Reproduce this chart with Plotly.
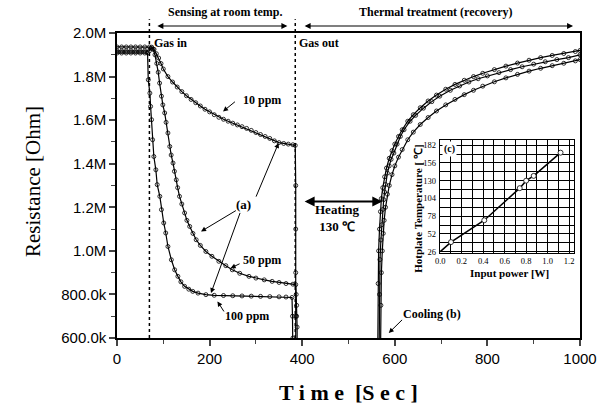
import plotly.graph_objects as go

# ---------------- data (Resistance in MOhm) ----------------
t_10 = [0, 10, 20, 30, 40, 50, 60, 70, 75, 80, 85, 90, 95, 100, 110, 120, 130, 140, 150, 160,
        170, 180, 190, 200, 210, 220, 230, 240, 250, 260, 270, 280, 290, 300, 310, 320, 330,
        340, 350, 360, 370, 380, 385, 386, 386, 386, 386, 386]
r_10 = [1.936, 1.936, 1.936, 1.936, 1.936, 1.936, 1.936, 1.936, 1.935, 1.925, 1.905, 1.885,
        1.860, 1.835, 1.800, 1.775, 1.752, 1.731, 1.712, 1.695, 1.680, 1.665, 1.650, 1.638,
        1.625, 1.613, 1.604, 1.595, 1.586, 1.578, 1.570, 1.562, 1.553, 1.543, 1.534, 1.525,
        1.516, 1.505, 1.497, 1.493, 1.490, 1.487, 1.484, 1.30, 1.10, 0.90, 0.70, 0.50]
t_10_rec = [563, 564, 565, 567, 569, 571, 574, 578, 582, 588, 594, 600, 608, 616, 628, 640,
            655, 672, 690, 710, 730, 750, 770, 790, 815, 840, 865, 890, 915, 940, 965, 990, 1000]
r_10_rec = [0.50, 0.85, 1.00, 1.10, 1.18, 1.24, 1.29, 1.34, 1.38, 1.425, 1.46, 1.49, 1.525,
            1.556, 1.595, 1.625, 1.657, 1.688, 1.715, 1.742, 1.764, 1.783, 1.800, 1.815, 1.832,
            1.848, 1.862, 1.875, 1.887, 1.897, 1.906, 1.915, 1.920]

t_50 = [0, 10, 20, 30, 40, 50, 60, 70, 74, 78, 82, 86, 89, 92, 96, 99, 103, 106, 110, 114,
        117, 121, 124, 128, 131, 135, 140, 146, 151, 157, 164, 171, 180, 192, 205, 220, 235,
        249, 265, 285, 300, 318, 335, 350, 365, 380, 386, 387, 388, 388, 389, 389]
r_50 = [1.918, 1.918, 1.918, 1.918, 1.918, 1.918, 1.918, 1.918, 1.930, 1.925, 1.900, 1.860,
        1.820, 1.770, 1.710, 1.670, 1.633, 1.590, 1.541, 1.479, 1.440, 1.403, 1.365, 1.326,
        1.290, 1.250, 1.215, 1.174, 1.140, 1.112, 1.080, 1.051, 1.025, 0.997, 0.975, 0.952,
        0.932, 0.913, 0.897, 0.883, 0.875, 0.867, 0.860, 0.855, 0.850, 0.847, 0.845, 0.80,
        0.75, 0.70, 0.65, 0.55]
t_50_rec = [566, 567, 568, 570, 572, 574, 576, 578, 580, 584, 588, 592, 598, 605, 612, 620,
            633, 645, 662, 680, 697, 720, 740, 760, 780, 800, 825, 850, 875, 900, 925, 950,
            975, 1000]
r_50_rec = [0.50, 0.80, 0.96, 1.05, 1.12, 1.19, 1.235, 1.27, 1.305, 1.357, 1.39, 1.42, 1.449,
            1.49, 1.525, 1.556, 1.595, 1.622, 1.655, 1.685, 1.710, 1.737, 1.757, 1.775, 1.790,
            1.803, 1.818, 1.832, 1.845, 1.857, 1.868, 1.878, 1.887, 1.900]

t_100 = [0, 10, 20, 30, 40, 50, 60, 66, 67.5, 71, 72.6, 74.7, 76.9, 79.6, 83.9, 86.8, 92.5,
         96, 101, 105.3, 110, 117.4, 124.5, 131.5, 138, 146, 155, 163.6, 175, 192, 210, 230,
         250, 270, 290, 310, 330, 350, 365, 378, 379, 380, 380]
r_100 = [1.908, 1.908, 1.908, 1.908, 1.908, 1.908, 1.908, 1.908, 1.785, 1.724, 1.663, 1.602,
         1.510, 1.433, 1.372, 1.304, 1.250, 1.189, 1.128, 1.082, 1.020, 0.959, 0.913, 0.883,
         0.858, 0.837, 0.824, 0.814, 0.806, 0.799, 0.796, 0.795, 0.794, 0.793, 0.792, 0.791,
         0.790, 0.789, 0.788, 0.786, 0.70, 0.60, 0.50]
t_100_rec = [569, 570, 571, 573, 575, 577, 580, 584, 588, 594, 600, 608, 616, 628, 640, 655,
             672, 690, 710, 730, 750, 770, 790, 815, 840, 865, 890, 915, 940, 965, 990, 1000]
r_100_rec = [0.50, 0.75, 0.90, 1.00, 1.08, 1.14, 1.20, 1.26, 1.30, 1.35, 1.39, 1.43, 1.465,
             1.51, 1.545, 1.58, 1.612, 1.642, 1.670, 1.695, 1.717, 1.737, 1.756, 1.776, 1.794,
             1.810, 1.825, 1.838, 1.850, 1.861, 1.872, 1.878]

# inset: hotplate temperature vs input power
power_w = [0.0, 0.10, 0.41, 0.74, 0.80, 0.87, 1.12]
temp_c = [26, 40, 72, 119, 130, 137, 171]

y_tickvals = [0.6, 0.8, 1.0, 1.2, 1.4, 1.6, 1.8, 2.0]
y_ticktext = ["600.0k", "800.0k", "1.0M", "1.2M", "1.4M", "1.6M", "1.8M", "2.0M"]
x_tickvals = [0, 200, 400, 600, 800, 1000]
inset_y_ticks = [26, 52, 78, 104, 130, 156, 182]
inset_x_ticks = [0.0, 0.2, 0.4, 0.6, 0.8, 1.0, 1.2]
inset_x_text = ["0.0", "0.2", "0.4", "0.6", "0.8", "1.0", "1.2"]

SERIF = "Liberation Serif"
SANS = "Liberation Sans"

fig = go.Figure()

mk = dict(symbol="circle-open", size=4, color="black", line=dict(width=0.8))
ln = dict(color="black", width=1.2)
for tt, rr in [(t_10, r_10), (t_10_rec, r_10_rec), (t_50, r_50), (t_50_rec, r_50_rec),
               (t_100, r_100), (t_100_rec, r_100_rec)]:
    fig.add_trace(go.Scatter(x=tt, y=rr, mode="lines+markers", marker=mk, line=ln,
                             showlegend=False, hoverinfo="skip"))

fig.add_trace(go.Scatter(x=power_w, y=temp_c, mode="lines", line=dict(color="black", width=1.5),
                         xaxis="x2", yaxis="y2", showlegend=False))
fig.add_trace(go.Scatter(x=power_w[1:], y=temp_c[1:], mode="markers",
                         marker=dict(symbol="circle", size=5, color="white",
                                     line=dict(width=0.8, color="black")),
                         xaxis="x2", yaxis="y2", showlegend=False))

fig.update_layout(
    width=609, height=407, autosize=False,
    margin=dict(l=117, r=24, t=33, b=69, pad=0),
    paper_bgcolor="white", plot_bgcolor="white",
    xaxis=dict(range=[0, 1000], tickvals=x_tickvals, ticks="outside", ticklen=6, tickwidth=1.5,
               minor=dict(dtick=100, tick0=0, ticks="outside", ticklen=4, tickwidth=1.2),
               showline=True, linecolor="black", linewidth=1.5, mirror=True, showgrid=False,
               zeroline=False, tickfont=dict(family=SANS, size=15, color="black")),
    yaxis=dict(range=[0.6, 2.0], tickvals=y_tickvals, ticktext=y_ticktext, ticks="outside",
               ticklen=6, tickwidth=1.5,
               minor=dict(dtick=0.1, tick0=0.6, ticks="outside", ticklen=4, tickwidth=1.2),
               showline=True, linecolor="black", linewidth=1.5, mirror=True, showgrid=False,
               zeroline=False, tickfont=dict(family=SANS, size=15, color="black")),
    xaxis2=dict(domain=[0.697, 0.987], anchor="y2", range=[-0.005, 1.245],
                tickvals=inset_x_ticks, ticktext=inset_x_text,
                ticks="", showline=True, linecolor="black", linewidth=1, mirror=True,
                showgrid=True, gridcolor="black", gridwidth=0.6, zeroline=False,
                minor=dict(dtick=0.1, tick0=0, showgrid=True, gridcolor="black", gridwidth=0.6),
                tickfont=dict(family=SERIF, size=8.5, color="black"), ticklabelstandoff=0),
    yaxis2=dict(domain=[0.278, 0.649], anchor="x2", range=[23.7, 189.5],
                tickvals=inset_y_ticks, ticks="", showline=True, linecolor="black", linewidth=1,
                mirror=True, showgrid=True, gridcolor="black", gridwidth=0.6, zeroline=False,
                minor=dict(dtick=13, tick0=26, showgrid=True, gridcolor="black", gridwidth=0.6),
                tickfont=dict(family=SERIF, size=8.5, color="black"), ticklabelstandoff=1),
)

# dotted vertical markers (gas in / gas out)
for xv in [70, 385]:
    fig.add_shape(type="line", xref="x", yref="paper", x0=xv, x1=xv, y0=0, y1=1.045,
                  line=dict(color="black", width=1.5, dash="dot"))

ann = []
B = lambda s: "<b>" + s + "</b>"
def text(x, y, s, size=12, xref="x", yref="y", xanchor="center", **kw):
    ann.append(dict(x=x, y=y, xref=xref, yref=yref, text=s, showarrow=False, xanchor=xanchor,
                    yanchor="middle", font=dict(family=SERIF, size=size, color="black"), **kw))
def arrow(x0, y0, x1, y1, width=1, head=2, size=1):
    ann.append(dict(x=x1, y=y1, ax=x0, ay=y0, xref="x", yref="y", axref="x", ayref="y",
                    text="", showarrow=True, arrowhead=head, arrowsize=size, arrowwidth=width,
                    arrowcolor="black"))
def darrow(x0, x1, y, yref, width):
    ann.append(dict(x=x1, y=y, ax=x0, ay=0, xref="x", yref=yref, axref="x", ayref="pixel",
                    text="", showarrow=True, arrowhead=2, arrowsize=1, arrowwidth=width,
                    arrowside="end+start", startarrowhead=2, startarrowsize=1,
                    arrowcolor="black"))

text(233, 1.069, B("Sensing at room temp."), yref="paper")
text(690, 1.069, B("Thermal treatment (recovery)"), yref="paper")
darrow(84, 368, 1.023, "paper", 1.2)
darrow(402, 985, 1.023, "paper", 1.2)
text(75, 0.967, B("Gas in"), yref="paper", xanchor="left")
text(389, 0.967, B("Gas out"), yref="paper", xanchor="left")

text(313, 1.694, B("10 ppm"), size=12)
arrow(258, 1.690, 229, 1.640)
text(313, 0.956, B("50 ppm"), size=12)
arrow(268, 0.944, 245.5, 0.921)
text(281, 0.702, B("100 ppm"), size=12)
arrow(233, 0.715, 217, 0.768)
text(274, 1.212, B("(a)"), size=13)
arrow(299, 1.242, 349, 1.495)
arrow(260, 1.189, 181.5, 1.089)
arrow(267, 1.181, 203, 0.806)

darrow(402, 573, 1.227, "y", 2)
text(477, 1.152, B("Heating") + "<br>" + B("130 ℃"), size=13)
text(680, 0.711, B("Cooling (b)"), size=12)
arrow(619, 0.69, 587, 0.623)

# inset labels
text(0.651, 0.425, B("Hotplate Temperature [ ℃]"), size=11, xref="paper", yref="paper",
     textangle=-90)
text(0.847, 0.212, B("Input power [W]"), size=11, xref="paper", yref="paper")
ann.append(dict(x=0.02, y=188, xref="x2", yref="y2", text=B("(c)"), showarrow=False,
                xanchor="left", yanchor="top", bgcolor="white",
                font=dict(family=SERIF, size=10, color="black")))

# main axis titles
text(0.5, -0.179, B("T i m e  [S e c ]"), size=22, xref="paper", yref="paper")
text(-0.181, 0.512, "Resistance [Ohm]", size=21, xref="paper", yref="paper", textangle=-90)

fig.update_layout(annotations=ann)
fig.write_html("out.html", config={"displayModeBar": False},
               post_script="document.body.style.margin='0px';")
